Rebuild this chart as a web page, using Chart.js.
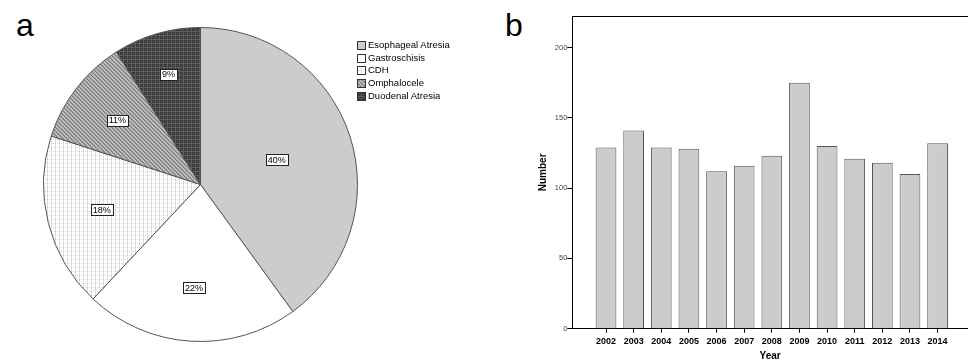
<!DOCTYPE html>
<html><head><meta charset="utf-8">
<script src="https://cdn.jsdelivr.net/npm/chart.js@4.4.1/dist/chart.umd.min.js"></script>
<style>
html,body{margin:0;padding:0;background:#fff;width:968px;height:362px;overflow:hidden;position:relative;font-family:"Liberation Sans",Arial,sans-serif;}
.panel{position:absolute;font-size:32px;line-height:32px;color:#000;}
#pieWrap{position:absolute;left:43px;top:27px;width:315px;height:315px;}
#barWrap{position:absolute;left:520px;top:0;width:448px;height:362px;}
#legend{position:absolute;left:357px;top:39px;font-size:9.5px;line-height:12.7px;color:#000;}
.li{display:flex;align-items:center;height:12.7px;white-space:nowrap;}
.li canvas{width:9px;height:9px;margin-right:2px;display:block;}
</style></head><body>
<div class="panel" style="left:16px;top:9px">a</div>
<div class="panel" style="left:505px;top:9px">b</div>
<div id="pieWrap"><canvas id="pie"></canvas></div>
<div id="legend"></div>
<div id="barWrap"><canvas id="bar"></canvas></div>
<script>
// ---- data ----
const anomalyLabels = ['Esophageal Atresia', 'Gastroschisis', 'CDH', 'Omphalocele', 'Duodenal Atresia'];
const anomalyPercents = [40, 22, 18, 11, 9];
const years = [2002, 2003, 2004, 2005, 2006, 2007, 2008, 2009, 2010, 2011, 2012, 2013, 2014];
const counts = [129, 141, 129, 128, 112, 116, 123, 175, 130, 121, 118, 110, 132];
const yTickValues = [0, 50, 100, 150, 200];

// ---- styles ----
const SLICE_STYLES = ['solid', 'white', 'dots', 'hatch', 'dark'];
const LABEL_RADIUS = [0.51, 0.66, 0.65, 0.67, 0.73];

function makeTile(kind) {
  const c = document.createElement('canvas');
  c.width = 4; c.height = 4;
  const g = c.getContext('2d');
  const px = (x, y, col) => { g.fillStyle = col; g.fillRect(x, y, 1, 1); };
  if (kind === 'solid') { g.fillStyle = '#cccccc'; g.fillRect(0, 0, 4, 4); }
  else if (kind === 'white') { g.fillStyle = '#ffffff'; g.fillRect(0, 0, 4, 4); }
  else if (kind === 'dots') {
    g.fillStyle = '#ffffff'; g.fillRect(0, 0, 4, 4);
    px(0, 0, '#c4c4c4'); px(0, 2, '#d4d4d4'); px(2, 0, '#d4d4d4'); px(0, 1, '#e6e6e6'); px(0, 3, '#e6e6e6');
  } else if (kind === 'hatch') {
    g.fillStyle = '#bdbdbd'; g.fillRect(0, 0, 4, 4);
    for (let i = 0; i < 4; i++) px(i, i, '#7a7a7a');
    px(1, 0, '#9c9c9c'); px(2, 1, '#9c9c9c'); px(3, 2, '#9c9c9c'); px(0, 3, '#9c9c9c');
  } else if (kind === 'dark') {
    g.fillStyle = '#3a3a3a'; g.fillRect(0, 0, 4, 4);
    for (let i = 0; i < 4; i++) { px(i, 0, '#5e5e5e'); px(0, i, '#5e5e5e'); }
    px(2, 2, '#505050');
  }
  return c;
}
function makePattern(kind) {
  const t = makeTile(kind);
  return document.createElement('canvas').getContext('2d').createPattern(t, 'repeat');
}
const slicePatterns = SLICE_STYLES.map(makePattern);

// ---- legend (HTML) ----
const legend = document.getElementById('legend');
anomalyLabels.forEach((lab, i) => {
  const row = document.createElement('div'); row.className = 'li';
  const sw = document.createElement('canvas'); sw.width = 9; sw.height = 9;
  const g = sw.getContext('2d');
  g.fillStyle = g.createPattern(makeTile(SLICE_STYLES[i]), 'repeat');
  g.fillRect(0, 0, 9, 9);
  g.strokeStyle = '#333'; g.lineWidth = 1; g.strokeRect(0.5, 0.5, 8, 8);
  const sp = document.createElement('span'); sp.textContent = lab;
  row.appendChild(sw); row.appendChild(sp); legend.appendChild(row);
});

// ---- pie ----
const pieLabelPlugin = {
  id: 'pieLabels',
  afterDatasetsDraw(chart) {
    const ctx = chart.ctx;
    const meta = chart.getDatasetMeta(0);
    const data = chart.data.datasets[0].data;
    const total = data.reduce((a, b) => a + b, 0);
    meta.data.forEach((arc, i) => {
      const p = arc.getProps(['x', 'y', 'startAngle', 'endAngle', 'outerRadius'], true);
      const mid = (p.startAngle + p.endAngle) / 2;
      const r = p.outerRadius * LABEL_RADIUS[i];
      const cx = p.x + Math.cos(mid) * r, cy = p.y + Math.sin(mid) * r;
      const txt = Math.round(data[i] / total * 100) + '%';
      ctx.save();
      ctx.font = '9px "Liberation Sans", Arial, sans-serif';
      const w = Math.round(ctx.measureText(txt).width + 4), h = 11;
      const x0 = Math.round(cx - w / 2) + 0.5, y0 = Math.round(cy - h / 2) + 0.5;
      ctx.fillStyle = '#fff'; ctx.fillRect(x0, y0, w, h);
      ctx.strokeStyle = '#222'; ctx.lineWidth = 1; ctx.strokeRect(x0, y0, w, h);
      ctx.fillStyle = '#000'; ctx.textAlign = 'center'; ctx.textBaseline = 'middle';
      ctx.fillText(txt, cx, cy + 0.5);
      ctx.restore();
    });
  }
};

new Chart(document.getElementById('pie'), {
  type: 'pie',
  data: {
    labels: anomalyLabels,
    datasets: [{
      data: anomalyPercents,
      backgroundColor: slicePatterns,
      borderColor: '#555',
      borderWidth: 1
    }]
  },
  options: {
    responsive: true, maintainAspectRatio: false, animation: false,
    layout: { padding: 0 },
    plugins: { legend: { display: false }, tooltip: { enabled: false } }
  },
  plugins: [pieLabelPlugin]
});

// ---- bar ----
const frameTopPlugin = {
  id: 'frameTop',
  afterDraw(chart) {
    const { ctx, chartArea: a } = chart;
    ctx.save(); ctx.strokeStyle = '#000'; ctx.lineWidth = 1;
    ctx.beginPath(); ctx.moveTo(a.left, Math.round(a.top) + 0.5); ctx.lineTo(a.right, Math.round(a.top) + 0.5); ctx.stroke();
    ctx.restore();
  }
};

new Chart(document.getElementById('bar'), {
  type: 'bar',
  data: {
    datasets: [{
      data: years.map((y, i) => ({ x: y, y: counts[i] })),
      backgroundColor: '#cccccc',
      borderColor: '#555',
      borderWidth: 1,
      borderSkipped: 'bottom',
      categoryPercentage: 1,
      barPercentage: 0.75
    }]
  },
  options: {
    responsive: true, maintainAspectRatio: false, animation: false,
    layout: { padding: { top: 16, right: 0, bottom: 0, left: 0 } },
    plugins: { legend: { display: false }, tooltip: { enabled: false } },
    scales: {
      x: {
        type: 'linear', min: 2000.78, max: 2015.1, offset: false,
        afterFit: s => { s.height = 33.3; },
        afterBuildTicks: s => { s.ticks = years.map(v => ({ value: v })); },
        grid: { drawOnChartArea: false, tickLength: 4, color: '#000', offset: false },
        border: { display: true, color: '#000', width: 1 },
        ticks: {
          autoSkip: false, maxRotation: 0, padding: 3, color: '#000',
          font: { family: '"Liberation Sans", Arial, sans-serif', size: 9, weight: 'bold' },
          callback: v => String(v)
        },
        title: {
          display: true, text: 'Year', color: '#000',
          font: { family: '"Liberation Sans", Arial, sans-serif', size: 10, weight: 'bold', lineHeight: 1.2 },
          padding: { top: 0, bottom: 0 }
        }
      },
      y: {
        min: 0, max: 222.5,
        afterFit: s => { s.width = 52.3; },
        afterBuildTicks: s => { s.ticks = yTickValues.map(v => ({ value: v })); },
        grid: { drawOnChartArea: false, tickLength: 5, color: '#000' },
        border: { display: true, color: '#000', width: 1 },
        ticks: {
          padding: 0, color: '#444',
          font: { family: '"Liberation Sans", Arial, sans-serif', size: 7.5 }
        },
        title: {
          display: true, text: 'Number', color: '#000',
          font: { family: '"Liberation Sans", Arial, sans-serif', size: 10, weight: 'bold', lineHeight: 1.2 },
          padding: { top: 16.8, bottom: 0 }
        }
      }
    }
  },
  plugins: [frameTopPlugin]
});
</script>
</body></html>
